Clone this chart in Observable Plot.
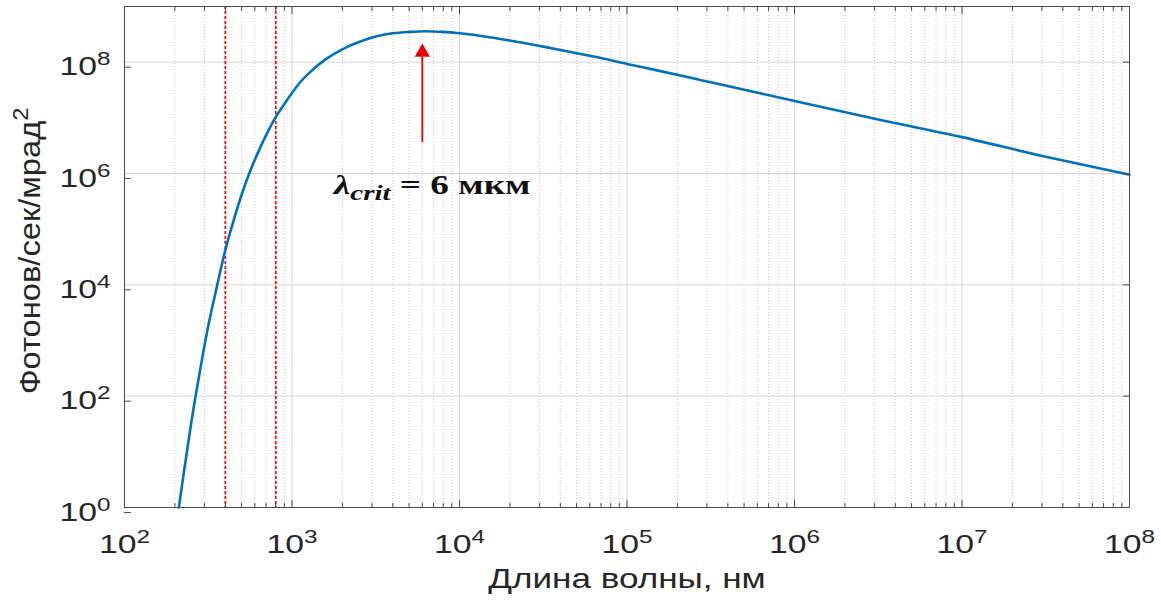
<!DOCTYPE html>
<html><head><meta charset="utf-8">
<script src="https://cdn.jsdelivr.net/npm/d3@7"></script>
<script src="https://cdn.jsdelivr.net/npm/@observablehq/plot@0.6"></script>
<style>body{margin:0;background:#fff;} svg{display:block;}</style>
</head><body><div id="chart"></div>
<script>
// Spectrum
const wavelengthNm = [211, 224, 251, 282, 316, 355, 398, 447, 501, 562, 631, 708, 794, 891, 1000, 1122, 1259, 1585, 1995, 2512, 3162, 3981, 5012, 6310, 7943, 10000, 14125, 19953, 31623, 44668, 63096, 100000, 158489, 281838, 501187, 1000000, 3162278, 10000000, 31622777, 100000000];
const photons = [1, 3.5, 35, 280, 1800, 8900, 4.0e4, 1.4e5, 4.2e5, 1.1e6, 2.5e6, 5.2e6, 1.0e7, 1.7e7, 2.8e7, 4.4e7, 6.3e7, 1.12e8, 1.7e8, 2.3e8, 2.9e8, 3.3e8, 3.5e8, 3.6e8, 3.5e8, 3.3e8, 2.9e8, 2.45e8, 1.9e8, 1.55e8, 1.26e8, 9.3e7, 6.9e7, 4.7e7, 3.2e7, 2.0e7, 9.3e6, 4.5e6, 2.0e6, 9.5e5];

// visible-range markers (nm)
const redLinesNm = [400, 800];

// annotation arrow at the critical wavelength
const arrowX = [6000];
const arrowFrom = [3.6e6];
const arrowHead = [1.5e8];
const annotationX = [1775];
const annotationY = [4.34e5];

// ticks
const xMajorTicks = [1e2, 1e3, 1e4, 1e5, 1e6, 1e7, 1e8];
const yMajorTicks = [1e0, 1e2, 1e4, 1e6, 1e8];
const xMinorTicks = [];
for (const d of xMajorTicks.slice(0, -1)) for (let m = 2; m <= 9; m++) xMinorTicks.push(m * d);

const xLabel = "Длина волны, нм";
const yLabel = "Фотонов/сек/мрад|2";
const annotation = "λ|crit| = 6 мкм";

const spectrum = wavelengthNm.map((w, i) => ({w, p: photons[i]}));
const fmt = d => "10|" + Math.round(Math.log10(d));
const axisColor = "#4a4a4a";
const tickFont = 25;

const chart = Plot.plot({
  width: 1161, height: 600,
  marginLeft: 124, marginRight: 32, marginTop: 6, marginBottom: 93,
  style: {fontFamily: "'Liberation Sans', Arial, sans-serif", background: "#fff", color: "#262626"},
  x: {type: "log", domain: [1e2, 1e8]},
  y: {type: "log", domain: [1, 1e9]},
  marks: [
    Plot.gridX(xMinorTicks, {stroke: "#c4c4c4", strokeOpacity: 1, strokeDasharray: "1,2", strokeWidth: 1}),
    Plot.gridX(xMajorTicks, {stroke: "#d6d6d6", strokeOpacity: 1}),
    Plot.gridY(yMajorTicks, {stroke: "#d6d6d6", strokeOpacity: 1}),
    Plot.ruleX(redLinesNm, {stroke: "#f01010", strokeDasharray: "3,2", strokeWidth: 1.8}),
    Plot.line(spectrum, {x: "w", y: "p", stroke: "#0072BD", strokeWidth: 2.6, curve: "monotone-x"}),
    Plot.ruleX(arrowX, {y1: arrowFrom, y2: arrowHead, stroke: "#e00000", strokeWidth: 1.8}),
    Plot.dot(arrowX, {x: d => d, y: arrowHead, symbol: "triangle", r: 5.7, fill: "#e80000", stroke: "none"}),
    Plot.text([annotation], {x: annotationX, y: annotationY, textAnchor: "start", lineAnchor: "bottom",
      fontSize: 27, fontWeight: "bold", fontFamily: "'Liberation Serif', 'DejaVu Serif', serif", fill: "#111"}),
    Plot.frame({stroke: axisColor, strokeWidth: 1}),
    Plot.axisX(xMajorTicks, {anchor: "bottom", tickSize: -7, tickPadding: 35, tickFormat: fmt, fontSize: tickFont, stroke: axisColor, label: null}),
    Plot.axisX(xMajorTicks, {anchor: "top", tickSize: -7, tickFormat: () => "", stroke: axisColor, label: null}),
    Plot.axisX(xMinorTicks, {anchor: "bottom", tickSize: -4, tickFormat: () => "", stroke: axisColor, label: null}),
    Plot.axisX(xMinorTicks, {anchor: "top", tickSize: -4, tickFormat: () => "", stroke: axisColor, label: null}),
    Plot.axisY(yMajorTicks, {anchor: "left", tickSize: -7, tickPadding: 21, dy: 5, tickFormat: fmt, fontSize: tickFont, stroke: axisColor, label: null}),
    Plot.axisY(yMajorTicks, {anchor: "right", tickSize: -7, tickFormat: () => "", stroke: axisColor, label: null}),
    Plot.text([xLabel], {frameAnchor: "bottom", dy: 80, fontSize: 27, fill: "#262626", textAnchor: "middle", lineAnchor: "bottom"}),
    Plot.text([yLabel], {frameAnchor: "left", rotate: -90, dx: -94, dy: -6, fontSize: 30, fill: "#262626", textAnchor: "middle", lineAnchor: "middle"})
  ]
});

const NS = "http://www.w3.org/2000/svg";
function span(txt, attrs = {}) {
  const s = document.createElementNS(NS, "tspan");
  s.textContent = txt;
  for (const k in attrs) s.setAttribute(k, attrs[k]);
  return s;
}
function stretchX(t, k) {
  t.setAttribute("transform", (t.getAttribute("transform") || "") + ` scale(${k},1)`);
}
chart.querySelectorAll("text").forEach(t => {
  const s = t.textContent;
  if (s.startsWith("10|")) {
    const [b, e] = s.split("|");
    t.textContent = "";
    t.append(span(b), span(e, {dy: "-0.55em", "font-size": "0.72em"}));
    stretchX(t, 1.35);
  } else if (s === yLabel) {
    const [b, e] = s.split("|");
    t.textContent = "";
    t.append(span(b), span(e, {dy: "-0.55em", "font-size": "0.72em"}));
    stretchX(t, 1.09);
  } else if (s === xLabel) {
    stretchX(t, 1.3);
  } else if (s === annotation) {
    const [a, b, c] = s.split("|");
    t.textContent = "";
    t.append(span(a, {"font-style": "italic"}),
             span(b, {"font-style": "italic", "font-size": "21", dy: "6"}),
             span(c, {dy: "-6"}));
    stretchX(t, 1.38);
  }
});
document.getElementById("chart").appendChild(chart);
</script>
</body></html>
